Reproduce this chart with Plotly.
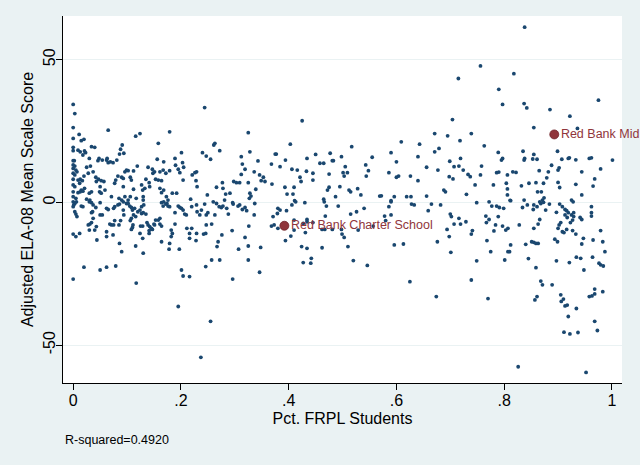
import plotly.graph_objects as go

# ---- data (x = share of FRPL students, y = adjusted ELA-08 score) ----
frpl_a = [0.000,0.003,0.000,0.000,0.011,0.015,0.020,0.000,0.000,0.009,
          0.013,0.018,0.021,0.023,0.000,0.002,0.000,0.003,0.000,0.005,
          0.007,0.000,0.003,0.000,0.009,0.013,0.017,0.020,0.025,0.028,
          0.030,0.032,0.034,0.040,0.037,0.042,0.043,0.000,0.003,0.012,
          0.015,0.021,0.000,0.009,0.013,0.018,0.030,0.034,0.000,0.005,
          0.025,0.031,0.048,0.046,0.047,
          0.050,0.049,0.052,0.059,0.057,0.052,0.054,0.062,0.065,0.069,
          0.065,0.063,0.074,0.077,0.079,0.081,0.086,0.088,0.091,0.094,
          0.083,0.090,0.093,0.096,0.093,0.096,0.090,0.085,0.071,
          0.099,0.102,0.106,0.108,0.112,0.116,0.124,0.119,0.112,0.106,
          0.102,0.117,0.127,0.129,0.133,0.135,0.139,0.141,0.142,0.130,
          0.130,0.147,0.148,
          0.158,0.156,0.151,0.161,0.153,0.158,0.164,0.168,0.167,0.172,
          0.179,0.179,0.189,0.190,0.195,0.198,0.201,0.203,0.205,0.161,
          0.164,0.168,0.173,0.176,0.184,0.192,0.204,
          0.218,0.221,0.226,0.228,0.229,0.230,0.240,0.244,0.247,0.255,
          0.249,0.261,0.263,0.266,0.272,0.277,0.278,0.281,0.283,0.291,
          0.298,0.303,0.309,0.312,0.312,0.314,0.319,0.325,0.328,0.328,
          0.327]
score_a = [34.3,31.1,26.2,22.4,23.8,21.6,22.1,19.3,18.1,18.3,
           17.7,16.6,18.0,17.4,14.6,14.6,13.1,12.7,11.9,11.3,
           10.7,10.2,9.6,8.1,7.8,8.1,7.6,9.2,12.3,10.2,
           15.4,12.7,19.5,19.3,10.7,8.8,7.3,6.1,5.5,6.7,
           4.3,4.9,3.7,3.4,3.7,3.9,3.2,3.7,2.0,1.4,
           1.1,0.8,15.4,14.6,8.1,
           5.5,3.7,3.2,4.3,7.3,7.6,14.8,14.8,13.9,14.2,
           25.3,15.4,13.9,6.7,7.8,14.8,16.9,18.6,20.1,17.2,
           9.2,8.8,8.4,10.7,5.5,2.0,0.8,1.4,2.0,
           11.3,11.1,8.8,7.8,11.0,23.2,24.1,12.7,4.6,2.0,
           0.8,1.4,6.1,4.3,4.9,8.1,12.3,6.9,5.5,2.0,
           0.8,11.6,10.2,
           20.7,15.1,10.7,10.7,8.1,7.8,7.6,14.2,11.3,10.2,
           24.7,11.1,15.4,13.0,11.6,10.4,17.4,13.9,12.3,4.9,
           3.4,4.3,2.0,0.8,3.2,3.2,7.8,
           1.1,9.6,10.4,7.6,10.7,5.5,17.4,33.2,16.2,15.1,
           2.6,20.1,20.7,5.3,18.1,6.9,4.9,0.8,2.9,3.2,
           7.3,6.9,6.9,9.8,16.0,13.4,11.6,24.4,17.7,3.2,
           1.4]

frpl_b = [0.000,0.003,0.006,0.001,0.000,0.003,0.005,0.007,0.015,0.018,
          0.030,0.034,0.037,0.042,0.034,0.036,0.037,0.028,0.031,0.034,
          0.030,0.040,0.043,0.000,0.005,0.012,0.044,0.000,0.020,0.050,
          0.050,0.050,0.054,0.062,0.065,0.071,0.075,0.077,0.068,0.085,
          0.088,0.074,0.062,0.062,0.086,0.090,0.062,0.079,0.075,0.077,
          0.083,0.086,0.093,0.094,0.093,0.099,
          0.102,0.105,0.108,0.110,0.114,0.112,0.108,0.106,0.111,0.110,
          0.108,0.116,0.120,0.124,0.127,0.130,0.127,0.131,0.135,0.129,
          0.125,0.137,0.139,0.142,0.145,0.141,0.141,0.147,0.150,0.153,
          0.116,0.130,0.129,0.117,0.124,
          0.164,0.168,0.172,0.174,0.167,0.176,0.179,0.189,0.195,0.198,
          0.201,0.204,0.207,0.210,0.161,0.158,0.151,0.161,0.164,0.182,
          0.184,0.182,0.164,0.179,0.178,0.189,0.197,0.195,0.201,0.204,
          0.216,0.211,0.216,0.220,
          0.220,0.229,0.230,0.235,0.238,0.244,0.247,0.250,0.260,0.263,
          0.266,0.271,0.275,0.278,0.285,0.288,0.296,0.297,0.306,0.309,
          0.314,0.319,0.229,0.228,0.216,0.242,0.246,0.247,0.257,0.276,
          0.269,0.267,0.257,0.272,0.246,0.295,0.296,0.307,0.319,0.325,
          0.325,0.255,0.237]
score_b = [0.2,-0.4,0.2,-0.9,-1.5,-3.3,-4.1,-5.0,-1.3,-1.5,
           0.2,-0.1,-0.9,-1.8,-3.6,-3.3,-5.6,-7.9,-7.6,-7.1,
           -9.7,-9.7,-8.5,-11.1,-12.0,-10.9,-13.2,-26.9,-22.7,-23.7,
           -0.1,-4.4,-4.4,-2.1,-2.5,-7.9,-7.9,-6.4,-7.6,-7.9,
           -6.4,-11.4,-10.3,-12.0,-14.4,-17.3,-22.7,-22.3,-2.1,-1.5,
           -0.9,-0.6,0.2,-4.4,-2.7,-0.4,
           -0.4,-1.3,-1.8,-2.7,-2.1,-4.4,-5.6,-6.4,-7.9,-8.8,
           -9.5,-5.0,-3.3,-2.7,-3.9,-3.6,-1.5,-0.9,-4.1,-8.3,
           -8.3,-7.1,-7.9,-8.5,-9.1,-9.9,-10.9,-9.5,-7.6,-6.2,
           -15.3,-17.8,-12.6,-28.3,-10.9,
           -0.1,0.2,-0.6,-0.4,-1.3,-1.3,-1.5,-3.6,-1.3,-1.8,
           -2.1,-2.7,-4.1,-4.4,-5.6,-6.2,-7.9,-7.6,-8.3,-9.7,
           -10.9,-12.0,-13.8,-14.4,-16.4,-7.6,-16.4,-36.5,-23.7,-25.8,
           -26.0,-9.1,-10.9,-9.1,
           -1.5,-0.9,-3.3,-4.4,-2.7,-0.6,-4.4,-3.6,0.2,-4.4,
           -0.4,-1.5,-1.8,-1.3,-2.1,-4.1,-0.1,-0.6,-1.3,-0.9,
           -2.5,-1.8,-10.9,-13.4,-12.6,-11.1,-10.9,-7.9,-7.6,-11.4,
           -13.8,-15.5,-20.2,-20.2,-22.5,-9.9,-26.9,-16.4,-12.3,-15.3,
           -20.2,-41.7,-54.3]

frpl_c = [0.325,0.330,0.336,0.343,0.339,0.346,0.349,0.353,0.356,0.368,
          0.369,0.375,0.377,0.384,0.393,0.394,0.397,0.403,0.406,0.410,
          0.408,0.411,0.416,0.421,0.423,0.425,0.433,0.434,0.445,0.445,
          0.450,0.458,0.465,0.465,0.472,0.475,0.475,0.477,0.481,0.483,
          0.487,0.495,0.498,0.501,0.503,0.505,0.509,0.512,0.515,0.517,
          0.528,0.534,0.543,0.544,0.548,0.555,0.569,0.572,0.586,0.590,
          0.590,0.596,0.600,0.600,0.604,0.609,0.619,0.626,0.627,0.640,
          0.640,0.643,0.656,0.656,0.671,0.671,
          0.322,0.337,0.326,0.336,0.348,0.346,0.380,0.384,0.379,0.371,
          0.368,0.373,0.380,0.394,0.404,0.396,0.406,0.413,0.410,0.410,
          0.427,0.434,0.434,0.431,0.445,0.424,0.434,0.442,0.427,0.441,
          0.430,0.466,0.470,0.468,0.462,0.467,0.481,0.462,0.492,0.498,
          0.499,0.503,0.510,0.515,0.526,0.529,0.520,0.540,0.546,0.557,
          0.578,0.580,0.586,0.590,0.590,0.596,0.613,0.628,0.633,0.625,0.659]
score_c = [6.9,2.2,10.7,14.5,4.6,9.6,7.6,8.8,7.3,13.4,
           6.4,16.9,16.9,12.5,5.3,14.8,2.9,20.4,11.6,5.3,
           2.9,0.6,11.3,8.8,7.3,28.6,10.9,15.4,10.2,7.8,
           16.8,13.7,13.7,1.1,4.3,5.3,9.9,17.2,14.6,14.6,
           2.0,5.5,16.0,10.4,9.2,12.5,10.4,4.3,3.7,19.5,
           4.8,2.6,13.1,9.2,11.1,15.8,2.2,2.3,10.4,17.4,
           0.6,2.0,14.2,8.8,9.2,21.2,2.0,9.2,2.0,16.0,
           7.6,20.4,12.3,2.2,24.1,17.7,
           -2.9,-0.4,-8.3,-4.4,-15.8,-24.5,-2.1,-2.7,-3.9,-5.0,
           -8.3,-7.9,-9.1,-13.4,-11.8,-2.9,-0.9,0.2,-6.2,-9.7,
           -7.4,-6.0,-6.8,-10.6,-7.1,-15.5,-16.1,-19.6,-21.1,-21.3,
           -0.1,0.2,-1.3,-4.8,-9.5,-9.5,-9.5,-15.9,-1.3,-9.5,
           -11.1,-12.3,-15.5,-4.1,-3.3,-9.7,-20.4,-2.1,-22.1,-8.3,
           -4.8,-6.4,-1.5,-4.4,0.2,-14.9,-14.6,-0.6,-0.9,-27.8,-2.9]

frpl_d = [0.838,0.756,0.715,0.818,0.790,0.797,0.837,0.842,0.885,0.975,
          0.922,0.704,0.936,0.855,0.695,0.739,0.718,0.763,0.679,0.789,
          0.835,0.855,0.899,0.699,0.719,0.797,0.795,0.838,0.837,0.853,
          0.861,0.907,0.919,0.921,0.933,0.958,0.962,1.001,0.677,0.707,
          0.716,0.724,0.758,0.786,0.790,0.806,0.816,0.822,0.865,0.882,
          0.888,0.900,0.902,0.944,0.979,0.698,0.705,0.733,0.737,0.756,
          0.746,0.780,0.804,0.832,0.846,0.859,0.873,0.879,0.900,0.903,
          0.933,0.968,0.965,0.688,0.691,0.730,0.806,0.806,0.811,0.862,
          0.869,0.874,0.871,0.866,0.837,0.944,0.925,0.928]
score_d = [61.4,47.8,43.4,45.1,39.6,34.3,34.6,33.1,32.5,35.8,
           30.2,29.0,25.9,26.2,23.3,24.1,21.6,19.8,18.9,17.5,
           17.9,16.8,17.9,14.4,15.4,15.4,14.8,15.4,14.8,15.2,
           15.1,15.1,15.4,15.6,14.9,15.4,15.6,14.8,11.3,12.5,
           12.7,11.3,12.7,10.4,10.6,9.6,10.7,10.5,11.1,10.7,
           13.0,11.3,12.1,10.7,11.7,9.0,8.2,9.8,9.0,9.6,
           6.1,6.1,6.7,5.8,6.7,6.9,6.7,8.6,7.0,5.2,
           6.3,8.2,5.7,4.3,3.7,2.8,4.7,2.6,0.7,3.7,
           3.7,1.6,0.8,0.2,0.8,2.6,0.8,0.2]

frpl_e = [0.665,0.682,0.749,0.772,0.777,0.786,0.791,0.799,0.812,0.834,
          0.843,0.855,0.854,0.861,0.868,0.873,0.877,0.884,0.903,0.908,
          0.913,0.916,0.919,0.913,0.917,0.925,0.929,0.929,0.923,0.927,
          0.941,0.944,0.962,0.962,0.962,0.700,0.702,0.716,0.707,0.719,
          0.729,0.694,0.698,0.676,0.701,0.739,0.741,0.766,0.767,0.772,
          0.781,0.784,0.789,0.797,0.803,0.807,0.768,0.775,0.749,0.812,
          0.807,0.810,0.801,0.828,0.840,0.851,0.855,0.859,0.863,0.855,
          0.863,0.866,0.845,0.859,0.897,0.902,0.900,0.905,0.908,0.911,
          0.916,0.927,0.933,0.947,0.944,0.965,0.979,0.983,0.987,0.894,
          0.899,0.897,0.921,0.934,0.942,0.948,0.964,0.976,0.979,0.984,
          0.739,0.674,0.770,0.868,0.871,0.889,0.857,0.861,0.905,0.906,
          0.910,0.913,0.917,0.934,0.919,0.968,0.968,0.958,0.963,0.983,
          0.968,0.973,0.911,0.922,0.937,0.826,0.952]
score_e = [-0.6,-0.9,-0.1,0.2,-1.3,-1.3,-1.8,-2.1,0.6,-1.8,
           -0.9,-0.9,-2.5,-1.5,-0.4,0.0,-2.7,-0.6,-0.6,-1.5,
           -2.5,-2.9,-3.6,-4.4,-5.3,-4.4,-3.6,-5.0,-7.1,-6.2,
           -5.3,-6.0,-1.5,-3.6,-4.8,-4.1,-5.0,-5.6,-7.6,-7.6,
           -6.8,-9.5,-12.0,-13.8,-17.5,-11.1,-9.9,-4.8,-7.1,-6.0,
           -10.0,-7.9,-5.0,-8.3,-9.7,-9.1,-13.4,-17.3,-20.5,-14.9,
           -17.3,-17.3,-20.2,-7.9,-14.7,-13.8,-14.0,-14.4,-14.4,-9.1,
           -7.6,-6.0,-19.7,-22.9,-3.5,-7.9,-9.1,-7.1,-10.3,-10.6,
           -9.5,-9.9,-11.1,-12.6,-14.6,-13.2,-9.9,-13.8,-17.3,-12.9,
           -13.8,-20.5,-21.1,-19.2,-19.6,-23.7,-19.2,-21.3,-21.9,-22.3,
           -27.2,-33.0,-33.7,-27.6,-28.9,-28.9,-34.2,-33.0,-32.4,-34.7,
           -33.9,-36.3,-36.0,-37.2,-40.0,-30.4,-32.1,-33.0,-32.8,-31.3,
           -41.7,-44.9,-45.5,-46.1,-45.6,-57.6,-59.6]

# highlighted schools (the second label is cut at the image edge in the reference)
hl_names = ["Red Bank Charter School", "Red Bank Mid"]
hl_frpl = [0.392, 0.893]
hl_score = [-8.2, 23.8]

x_ticks = [0, 0.2, 0.4, 0.6, 0.8, 1]
x_ticklabels = ["0", ".2", ".4", ".6", ".8", "1"]
y_ticks = [-50, 0, 50]
y_ticklabels = ["-50", "0", "50"]
r_squared = 0.4920

all_frpl = frpl_a + frpl_b + frpl_c + frpl_d + frpl_e
all_score = score_a + score_b + score_c + score_d + score_e

NAVY = "#1A476F"
MAROON = "#90353B"
BG = "#EAF2F3"
FONT = "Liberation Sans, Arial, Helvetica, sans-serif"

fig = go.Figure()
fig.add_trace(go.Scatter(
    x=all_frpl, y=all_score, mode="markers",
    marker=dict(color=NAVY, size=3.8, line=dict(width=0)),
    hoverinfo="x+y", showlegend=False))
fig.add_trace(go.Scatter(
    x=hl_frpl, y=hl_score, mode="markers+text",
    text=hl_names, textposition="middle right",
    textfont=dict(color=MAROON, size=12.5, family=FONT),
    marker=dict(color=MAROON, size=9, line=dict(color="#6E2228", width=0.8)),
    cliponaxis=False, showlegend=False))

fig.add_annotation(
    text=f"R-squared={r_squared:.4f}", xref="paper", yref="paper",
    x=0.0, y=-0.155, xanchor="left", yanchor="middle", showarrow=False,
    font=dict(size=12.5, family=FONT, color="black"))

fig.update_layout(
    width=640, height=465,
    paper_bgcolor=BG, plot_bgcolor="white",
    margin=dict(l=63, r=18, t=16, b=82),
    font=dict(family=FONT, color="black", size=16),
    showlegend=False,
    xaxis=dict(
        range=[-0.0189, 1.0187], tickvals=x_ticks, ticktext=x_ticklabels,
        ticks="outside", ticklen=6, tickwidth=1, tickcolor="black",
        showline=True, linecolor="black", linewidth=1,
        showgrid=False, zeroline=False, automargin=False,
        tickfont=dict(size=16), ticklabelstandoff=-3,
        title=dict(text="Pct. FRPL Students", font=dict(size=16), standoff=4)),
    yaxis=dict(
        range=[-63.3, 65.3], tickvals=y_ticks, ticktext=y_ticklabels,
        tickangle=-90,
        ticks="outside", ticklen=6, tickwidth=1, tickcolor="black",
        showline=True, linecolor="black", linewidth=1,
        showgrid=True, gridcolor=BG, gridwidth=1.3, zeroline=False,
        automargin=False,
        tickfont=dict(size=16), ticklabelstandoff=-5,
        title=dict(text="Adjusted ELA-08 Mean Scale Score", font=dict(size=16), standoff=2)),
)

fig.write_html("out.html", config={"displayModeBar": False},
               post_script="document.body.style.margin='0';")
